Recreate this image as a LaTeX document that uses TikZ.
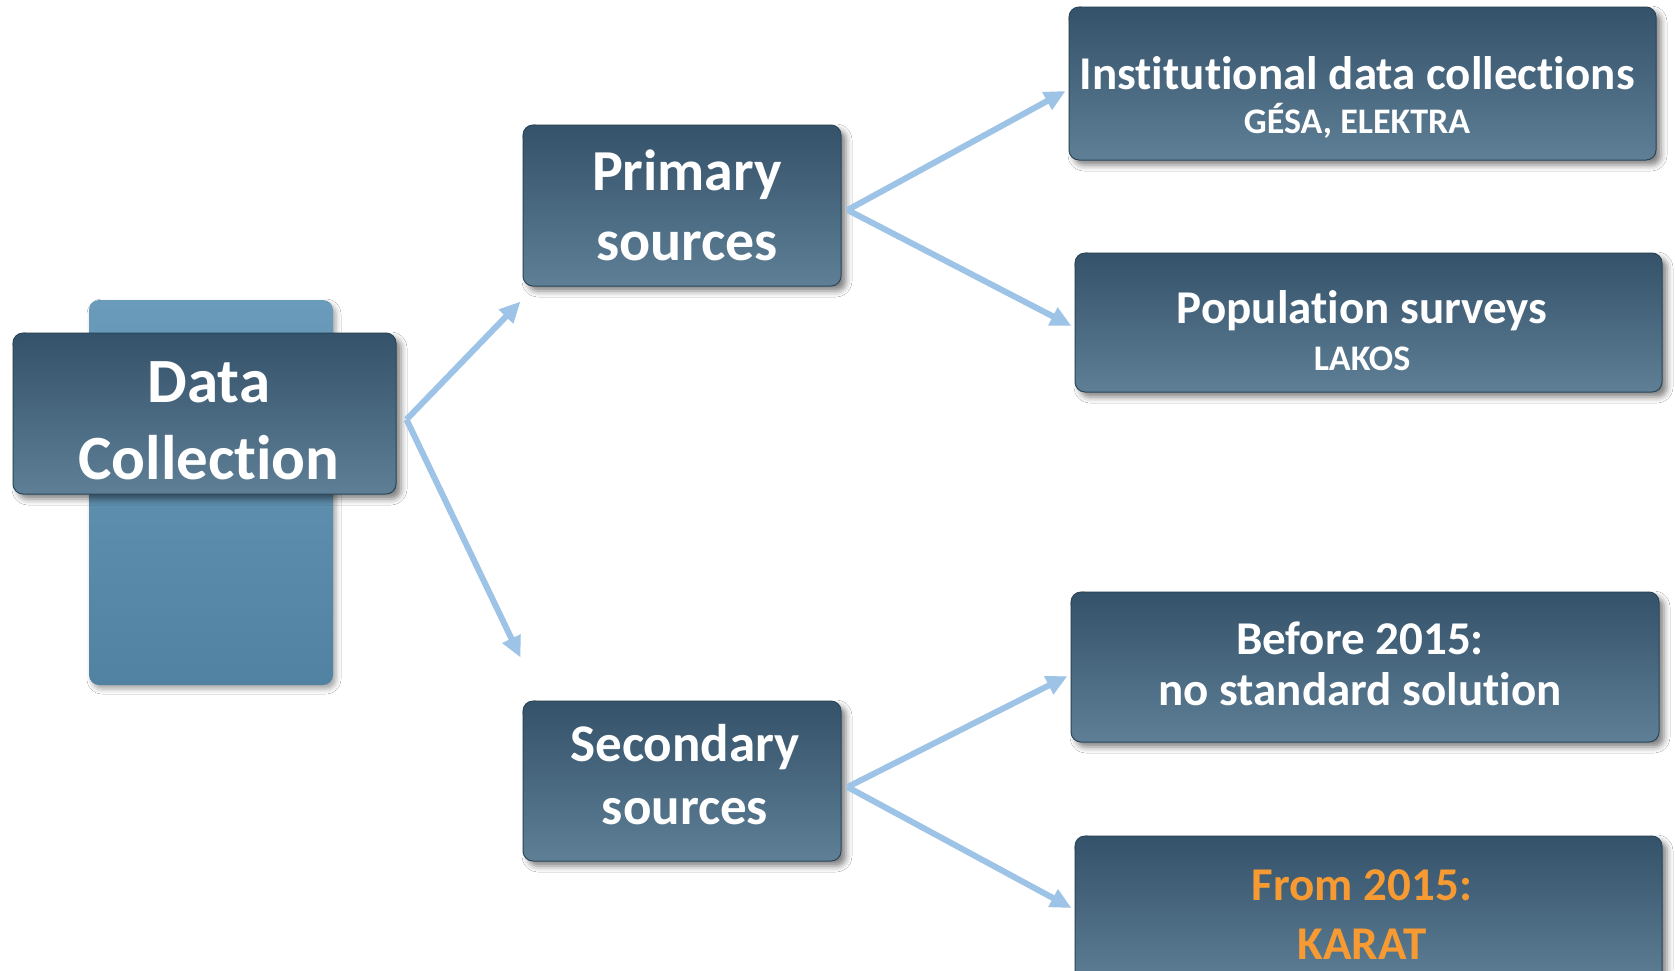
\documentclass[tikz,border=0pt]{standalone}
\usepackage{fontspec}
\setmainfont{Carlito}[RawFeature=-liga]
\usetikzlibrary{arrows.meta,shadows.blur}
\definecolor{boxtop}{HTML}{34526A}
\definecolor{boxbot}{HTML}{5E7F96}
\definecolor{backtop}{HTML}{6A9BBA}
\definecolor{backbot}{HTML}{5282A2}
\definecolor{arrowc}{HTML}{9DC3E6}
\definecolor{orangec}{HTML}{F79A32}
\tikzset{
  box/.style={draw=boxtop!85!black, line width=1pt, rounded corners=10pt,
    top color=boxtop, bottom color=boxbot, inner sep=0pt,
    blur shadow={shadow xshift=5pt, shadow yshift=-5pt, shadow blur radius=6pt, shadow opacity=50}},
  backbox/.style={rounded corners=10pt, top color=backtop, bottom color=backbot, inner sep=0pt,
    blur shadow={shadow xshift=3pt, shadow yshift=-4pt, shadow blur radius=5pt, shadow opacity=35}},
  txt/.style={text=white, anchor=base, inner sep=0pt},
  big/.style={font=\bfseries\fontsize{63}{70}\selectfont},
  mid/.style={font=\bfseries\fontsize{58}{64}\selectfont},
  mids/.style={font=\bfseries\fontsize{53}{60}\selectfont},
  ter/.style={font=\bfseries\fontsize{47}{52}\selectfont},
  sub/.style={font=\bfseries\fontsize{36}{40}\selectfont},
  conn/.style={draw=arrowc, line width=6pt, -{Triangle[length=21pt,width=19pt]}}
}
\begin{document}
\begin{tikzpicture}[x=1pt,y=-1pt]
\useasboundingbox[fill=white] (0,0) rectangle (1675,970);
% boxes
\node[backbox, minimum width=244pt, minimum height=385pt] (back) at (211,492.5) {};
\node[box, minimum width=383pt, minimum height=161pt] (dc) at (204.5,413.5) {};
\node[box, minimum width=318pt, minimum height=161pt] (prim) at (682,205.5) {};
\node[box, minimum width=318pt, minimum height=160pt] (sec) at (682,781) {};
\node[box, minimum width=587pt, minimum height=153pt] (inst) at (1362.5,83.5) {};
\node[box, minimum width=587pt, minimum height=139pt] (pop) at (1368.5,322.5) {};
\node[box, minimum width=588pt, minimum height=150pt] (bef) at (1365,667) {};
\node[box, minimum width=587pt, minimum height=150pt] (from) at (1368.5,911) {};
% texts
\node[txt, big] (dcT1) at (209,402) {Data};
\node[txt, big] (dcT2) at (209,479) {Collection};
\node[txt, mid] (primT1) at (687,190) {Primary};
\node[txt, mid] (primT2) at (687,260) {sources};
\node[txt, mids] (secT1) at (685,761) {Secondary};
\node[txt, mids] (secT2) at (685,824) {sources};
\node[txt, ter] (instT1) at (1357,89) {Institutional data collections};
\node[txt, sub] (instT2) at (1357,133) {GÉSA, ELEKTRA};
\node[txt, ter] (popT1) at (1362,323) {Population surveys};
\node[txt, sub] (popT2) at (1362,370) {LAKOS};
\node[txt, ter] (befT1) at (1360,654) {Before 2015:};
\node[txt, ter] (befT2) at (1360,705) {no standard solution};
\node[txt, ter, text=orangec] (fromT1) at (1362,900) {From 2015:};
\node[txt, ter, text=orangec] (fromT2) at (1362,959) {KARAT};
% connector points
\coordinate (dcA) at ([shift={(10,6)}]dc.east);
\coordinate (primIn) at ([shift={(-2,15)}]prim.south west);
\coordinate (secIn) at ([shift={(-2,-43)}]sec.north west);
\coordinate (primA) at ([shift={(6,4.5)}]prim.east);
\coordinate (instIn) at ([shift={(-3,7.5)}]inst.west);
\coordinate (popIn) at ([shift={(-3,3.5)}]pop.west);
\coordinate (secA) at ([shift={(6,6)}]sec.east);
\coordinate (befIn) at ([shift={(-3,9)}]bef.west);
\coordinate (fromIn) at ([shift={(-3,-3)}]from.west);
% connectors
\draw[conn] (dcA) -- (primIn);
\draw[conn] (dcA) -- (secIn);
\draw[conn] (primA) -- (instIn);
\draw[conn] (primA) -- (popIn);
\draw[conn] (secA) -- (befIn);
\draw[conn] (secA) -- (fromIn);
\end{tikzpicture}
\end{document}
